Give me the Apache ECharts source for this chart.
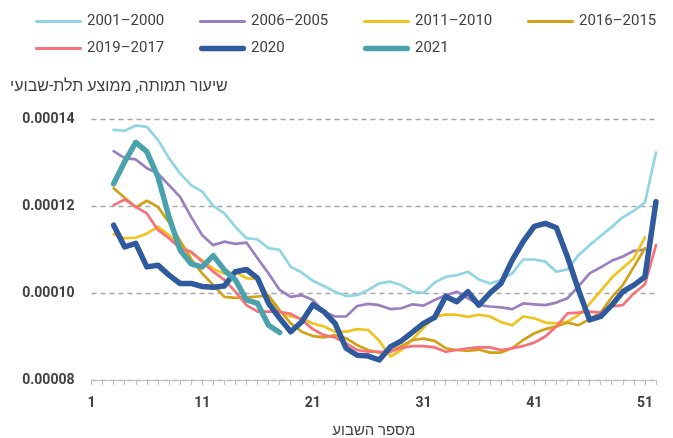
<!DOCTYPE html>
<html>
<head>
<meta charset="utf-8">
<script src="https://cdn.jsdelivr.net/npm/echarts@6/dist/echarts.min.js"></script>
<style>
  html, body { margin: 0; padding: 0; background: #fff; }
  #myChart { width: 673px; height: 438px; }
</style>
</head>
<body>
<div id="myChart"></div>
<script>
  // week numbers on the x axis
  var weeks = [];
  for (var i = 1; i <= 52; i++) weeks.push(String(i));

  // mortality rate, 3-week moving average, in units of 1e-6, starting at week 3
  var y2001_2000 = [137.5, 137.3, 138.5, 138.2, 135.2, 131.0, 127.5, 124.8, 123.3, 120.0,
    118.3, 115.2, 112.6, 112.3, 110.3, 109.9, 106.0, 104.7, 102.8, 101.6,
    100.3, 99.3, 99.5, 100.7, 102.2, 102.6, 101.8, 100.3, 100.0, 102.4,
    103.7, 104.1, 104.9, 103.1, 102.2, 103.0, 104.5, 107.7, 107.7, 107.2,
    104.9, 105.4, 108.7, 111.0, 113.1, 115.2, 117.4, 118.9, 120.8, 132.3];
  var y2006_2005 = [132.6, 131.0, 130.7, 128.7, 127.5, 124.8, 122.1, 117.5, 113.3, 111.0,
    111.8, 111.3, 111.6, 108.0, 104.5, 100.7, 99.1, 99.5, 98.4, 95.7,
    94.6, 94.6, 97.0, 97.5, 97.2, 96.3, 96.5, 97.4, 97.1, 98.4,
    99.5, 100.3, 98.8, 97.2, 96.9, 96.7, 96.3, 97.6, 97.4, 97.2,
    97.8, 98.8, 101.5, 104.5, 105.9, 107.4, 108.4, 109.7, 110.0];
  var y2011_2010 = [113.5, 112.6, 112.7, 113.7, 115.2, 113.3, 110.8, 109.3, 107.5, 105.6,
    104.4, 104.8, 103.4, 103.2, 99.1, 95.8, 94.6, 94.2, 93.0, 92.3,
    91.1, 91.1, 91.7, 91.5, 89.0, 85.4, 86.9, 89.3, 92.0, 94.5,
    95.1, 95.0, 94.5, 95.0, 94.6, 93.3, 92.6, 94.6, 94.2, 93.2,
    93.0, 93.4, 94.9, 97.5, 100.5, 103.5, 105.8, 108.0, 112.8];
  var y2016_2015 = [124.1, 121.9, 119.7, 121.2, 119.8, 116.2, 112.0, 107.8, 104.5, 101.8,
    99.1, 98.9, 99.0, 99.2, 99.4, 96.0, 93.0, 91.1, 90.1, 89.8,
    90.3, 89.6, 88.0, 86.9, 86.3, 86.5, 87.8, 89.2, 89.5, 89.0,
    87.3, 86.9, 86.7, 87.0, 86.3, 86.3, 87.3, 89.2, 90.7, 91.7,
    92.3, 93.2, 92.6, 94.0, 95.5, 99.0, 101.8, 106.0, 110.3];
  var y2019_2017 = [120.2, 121.5, 119.8, 118.3, 114.5, 112.6, 110.3, 109.5, 107.2, 104.9,
    103.0, 100.3, 97.2, 95.7, 95.7, 95.7, 95.2, 93.8, 91.7, 90.3,
    89.8, 88.4, 86.9, 86.5, 86.5, 86.5, 87.4, 87.8, 87.8, 87.5,
    86.5, 86.9, 87.3, 87.5, 87.5, 86.9, 87.3, 87.8, 88.6, 90.0,
    92.3, 95.3, 95.5, 95.7, 95.5, 96.9, 97.2, 99.9, 102.0, 111.0];
  var y2020 = [115.6, 110.6, 111.4, 106.0, 106.4, 104.1, 102.2, 102.2, 101.5, 101.3,
    101.6, 104.9, 105.4, 103.4, 97.6, 94.2, 91.1, 93.4, 97.3, 95.7,
    93.0, 87.3, 85.7, 85.5, 84.6, 87.6, 89.0, 91.0, 93.0, 94.4,
    99.2, 98.0, 100.3, 97.2, 100.0, 102.2, 107.5, 111.8, 115.3, 116.0,
    115.0, 108.3, 100.7, 93.8, 94.6, 97.2, 100.3, 101.8, 103.7, 121.0];
  var y2021 = [125.1, 130.2, 134.6, 132.5, 126.7, 117.5, 109.9, 106.7, 106.0, 108.6,
    105.3, 103.0, 98.4, 97.6, 92.6, 90.9];

  var yTicks = [80, 100, 120, 140];

  // data starts at week 3 (3-week average)
  function fromWeek3(arr) {
    return [null, null].concat(arr);
  }

  // legend line icons: a rounded bar inside a 47x14 box
  var thinIcon = 'path://M0,0 M1.4,5.6 L45.6,5.6 A1.4,1.4 0 0 1 45.6,8.4 L1.4,8.4 A1.4,1.4 0 0 1 1.4,5.6 Z M47,14';
  var thickIcon = 'path://M0,0 M2.7,4.3 L44.3,4.3 A2.7,2.7 0 0 1 44.3,9.7 L2.7,9.7 A2.7,2.7 0 0 1 2.7,4.3 Z M47,14';

  function line(name, data, color, width) {
    return {
      name: name,
      type: 'line',
      data: fromWeek3(data),
      symbol: 'none',
      lineStyle: { color: color, width: width, cap: 'round', join: 'round' },
      itemStyle: { color: color }
    };
  }

  var font = 'Roboto, "Liberation Sans", sans-serif';
  var myChart = echarts.init(document.getElementById('myChart'));
  myChart.setOption({
    animation: false,
    grid: { left: 91.5, right: 17, top: 119, bottom: 58, outerBoundsMode: 'none' },
    legend: {
      left: 30, top: 9, width: 660,
      itemWidth: 47, itemHeight: 14, itemGap: 12,
      textStyle: { fontSize: 15, color: '#404040', width: 100, lineHeight: 14, fontFamily: font },
      data: [
        { name: '2001–2000', icon: thinIcon },
        { name: '2006–2005', icon: thinIcon },
        { name: '2011–2010', icon: thinIcon },
        { name: '2016–2015', icon: thinIcon },
        { name: '2019–2017', icon: thinIcon },
        { name: '2020', icon: thickIcon },
        { name: '2021', icon: thickIcon }
      ]
    },
    graphic: [{
      type: 'text', left: 10, top: 79,
      style: { text: 'שיעור תמותה, ממוצע תלת-שבועי', font: '16px ' + font, fill: '#404040' }
    }],
    xAxis: {
      type: 'category',
      data: weeks,
      boundaryGap: false,
      name: 'מספר השבוע',
      nameLocation: 'middle',
      nameGap: 44,
      nameTextStyle: { fontSize: 15, color: '#404040', fontFamily: font },
      axisLine: { lineStyle: { color: '#bfbfbf', width: 1 } },
      axisTick: { interval: 0, length: 5, lineStyle: { color: '#bfbfbf' } },
      axisLabel: { interval: 9, margin: 16, fontSize: 14, fontWeight: 'bold', color: '#404040', fontFamily: font }
    },
    yAxis: {
      type: 'value',
      min: yTicks[0],
      max: yTicks[yTicks.length - 1],
      interval: 20,
      axisLine: { show: false },
      axisTick: { show: false },
      axisLabel: {
        margin: 17, fontSize: 14, fontWeight: 'bold', color: '#404040', fontFamily: font,
        formatter: function (v) { return (v / 1e6).toFixed(5); }
      },
      splitLine: { lineStyle: { color: '#a6a6a6', type: [5, 4], width: 1.3 } }
    },
    series: [
      line('2001–2000', y2001_2000, '#91d5e4', 2.7),
      line('2006–2005', y2006_2005, '#9a80bf', 2.7),
      line('2011–2010', y2011_2010, '#f0c31e', 2.7),
      line('2016–2015', y2016_2015, '#d4a116', 2.7),
      line('2019–2017', y2019_2017, '#f7707a', 2.7),
      line('2020', y2020, '#2f5a9e', 5.5),
      line('2021', y2021, '#4aa2ad', 5.5)
    ]
  });
</script>
</body>
</html>
